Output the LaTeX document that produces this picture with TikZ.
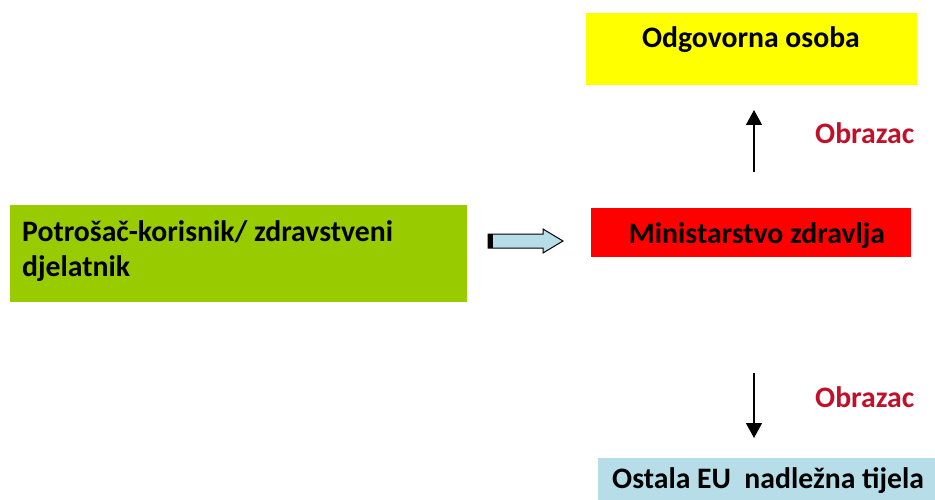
\documentclass[tikz,border=0pt]{standalone}
\usepackage{fontspec}
\setmainfont{Carlito}
\usetikzlibrary{arrows.meta}
\definecolor{ylw}{HTML}{FFFF00}
\definecolor{rd}{HTML}{FF0000}
\definecolor{grn}{HTML}{99CC00}
\definecolor{lblue}{HTML}{B7DEE8}
\definecolor{darkred}{HTML}{C0102A}
\begin{document}
\begin{tikzpicture}[x=1pt,y=-1pt,
  box/.style={draw=none,rectangle,anchor=north west,inner sep=0pt},
  lbl/.style={font=\fontsize{29.7}{35}\selectfont\bfseries,inner sep=0pt},
  formlbl/.style={lbl,text=darkred,anchor=base west},
  varrow/.style={line width=1.5pt,-{Triangle[width=16pt,length=15pt]}}]
\useasboundingbox (0,0) rectangle (935,500);
% boxes
\node[box,fill=ylw,minimum width=331pt,minimum height=72pt] (odg) at (586,13) {};
\node[box,fill=rd,minimum width=320pt,minimum height=49pt] (min) at (591,208) {};
\node[box,fill=grn,minimum width=457pt,minimum height=97pt] (pot) at (10,205) {};
\node[box,fill=lblue,minimum width=337pt,minimum height=42pt] (eu) at (598,458) {};
% texts
\node[lbl,anchor=base] (odgt) at (751,48) {Odgovorna osoba};
\node[lbl,anchor=base] (mint) at (757,243) {Ministarstvo zdravlja};
\node[lbl,anchor=base west,align=left] (pott) at (22,241) {Potrošač-korisnik/ zdravstveni};
\node[lbl,anchor=base west] (pott2) at (22,276) {djelatnik};
\node[lbl,anchor=base west] (eut) at (612,488) {Ostala EU\ \ nadležna tijela};
\node[formlbl] (ob1) at (815,144) {Obrazac};
\node[formlbl] (ob2) at (815,407) {Obrazac};
% vertical arrows
\coordinate (u1) at (754,172);
\coordinate (u2) at (754,110);
\coordinate (d1) at (754,373);
\coordinate (d2) at (754,438);
\draw[varrow] (u1) -- (u2);
\draw[varrow] (d1) -- (d2);
% block arrow
\draw[fill=lblue,line width=1pt,line join=miter]
  (488,234) -- (543,234) -- (543,229) -- (563,241) -- (543,253) -- (543,248) -- (488,248) -- cycle;
\fill[black] (488,234) rectangle (493,248);
\end{tikzpicture}
\end{document}
